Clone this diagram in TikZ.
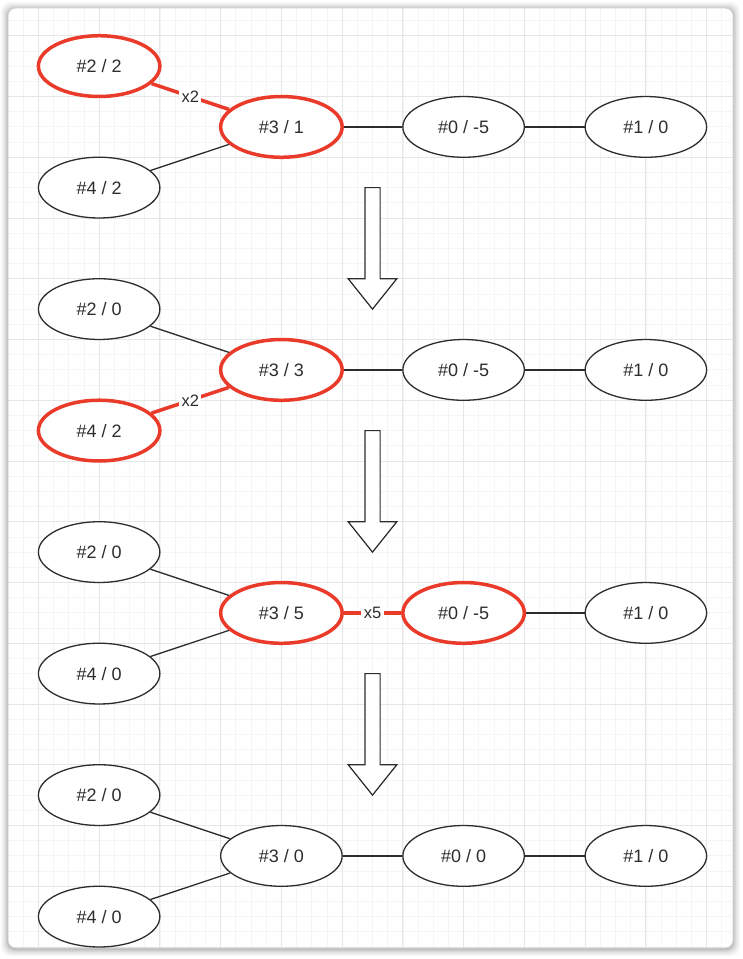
\documentclass[tikz,border=0pt]{standalone}
\usepackage{fontspec}
\setmainfont{Liberation Sans}
\usetikzlibrary{shapes.geometric}
\definecolor{hl}{RGB}{234,58,42}
\definecolor{ink}{RGB}{45,45,45}
\definecolor{gminor}{RGB}{245,245,245}
\definecolor{gmajor}{RGB}{230,230,230}
\tikzset{
  vert/.style={ellipse, draw=ink, line width=1.3pt, minimum width=121.5pt, minimum height=60.75pt, inner sep=0pt, font=\fontsize{18}{20}\selectfont, text=ink, fill=white},
  hot/.style={vert, draw=hl, line width=3.5pt},
  edge/.style={draw=ink, line width=1.3pt},
  hotedge/.style={draw=hl, line width=3.5pt},
  lbl/.style={fill=white, inner sep=2.5pt, font=\fontsize{16.5}{18}\selectfont, text=ink},
  blockarrow/.style={draw=ink, line width=1.2pt, fill=white, line join=miter},
}
\begin{document}
\begin{tikzpicture}[x=1pt,y=-1pt]
\useasboundingbox (0,0) rectangle (743,959);
% shadow
\foreach \k/\o in {7/0.03,5.5/0.04,4/0.05,2.5/0.07,1.2/0.09}{
  \fill[black,opacity=\o,rounded corners=9pt] (8-\k,8-\k+1) rectangle (733+\k,948+\k+1);
}
\fill[white,rounded corners=8pt] (8,8) rectangle (733,948);
\begin{scope}
\clip[rounded corners=8pt] (8,8) rectangle (733,948);
\foreach \i in {-2,...,46}{
  \pgfmathsetmacro\xx{38.4+\i*15.1875}
  \draw[gminor,line width=0.8pt] (\xx,8) -- (\xx,948);
}
\foreach \j in {-2,...,61}{
  \pgfmathsetmacro\yy{35.75+\j*15.1875}
  \draw[gminor,line width=0.8pt] (8,\yy) -- (733,\yy);
}
\foreach \i in {0,...,11}{
  \pgfmathsetmacro\xx{38.4+\i*60.75}
  \draw[gmajor,line width=0.9pt] (\xx,8) -- (\xx,948);
}
\foreach \j in {-1,...,15}{
  \pgfmathsetmacro\yy{35.75+\j*60.75}
  \draw[gmajor,line width=0.9pt] (8,\yy) -- (733,\yy);
}
\end{scope}
\draw[gray!35,line width=0.6pt,rounded corners=8pt] (8,8) rectangle (733,948);

% ---------- row 1 ----------
\node[hot]  (a2) at (99.15,66.1)  {\#2 / 2};
\node[vert] (a4) at (99.15,187.6) {\#4 / 2};
\node[hot]  (a3) at (281.4,126.9) {\#3 / 1};
\node[vert] (a0) at (463.6,126.9) {\#0 / -5};
\node[vert] (a1) at (645.9,126.9) {\#1 / 0};
\path[hotedge] (a2) -- node[lbl] (a2l) {x2} (a3);
\path[edge] (a4) -- (a3);
\path[edge] (a3) -- (a0);
\path[edge] (a0) -- (a1);

% ---------- row 2 ----------
\node[vert] (b2) at (99.15,309.1) {\#2 / 0};
\node[hot]  (b4) at (99.15,430.6) {\#4 / 2};
\node[hot]  (b3) at (281.4,369.9) {\#3 / 3};
\node[vert] (b0) at (463.6,369.9) {\#0 / -5};
\node[vert] (b1) at (645.9,369.9) {\#1 / 0};
\path[edge] (b2) -- (b3);
\path[hotedge] (b4) -- node[lbl] (b4l) {x2} (b3);
\path[edge] (b3) -- (b0);
\path[edge] (b0) -- (b1);

% ---------- row 3 ----------
\node[vert] (c2) at (99.15,552.1) {\#2 / 0};
\node[vert] (c4) at (99.15,673.6) {\#4 / 0};
\node[hot]  (c3) at (281.4,612.9) {\#3 / 5};
\node[hot]  (c0) at (463.6,612.9) {\#0 / -5};
\node[vert] (c1) at (645.9,612.9) {\#1 / 0};
\path[edge] (c2) -- (c3);
\path[edge] (c4) -- (c3);
\path[hotedge] (c3) -- node[lbl] (c3l) {x5} (c0);
\path[edge] (c0) -- (c1);

% ---------- row 4 ----------
\node[vert] (d2) at (99.15,795.1) {\#2 / 0};
\node[vert] (d4) at (99.15,916.6) {\#4 / 0};
\node[vert] (d3) at (281.4,855.9) {\#3 / 0};
\node[vert] (d0) at (463.6,855.9) {\#0 / 0};
\node[vert] (d1) at (645.9,855.9) {\#1 / 0};
\path[edge] (d2) -- (d3);
\path[edge] (d4) -- (d3);
\path[edge] (d3) -- (d0);
\path[edge] (d0) -- (d1);

% ---------- block arrows ----------
\foreach \oy in {0,243,486}{
  \draw[blockarrow] (364.9,187.6+\oy) -- (380.1,187.6+\oy) -- (380.1,278.75+\oy)
    -- (396.8,278.75+\oy) -- (372.5,309.1+\oy) -- (348.2,278.75+\oy)
    -- (364.9,278.75+\oy) -- cycle;
}
\end{tikzpicture}
\end{document}
